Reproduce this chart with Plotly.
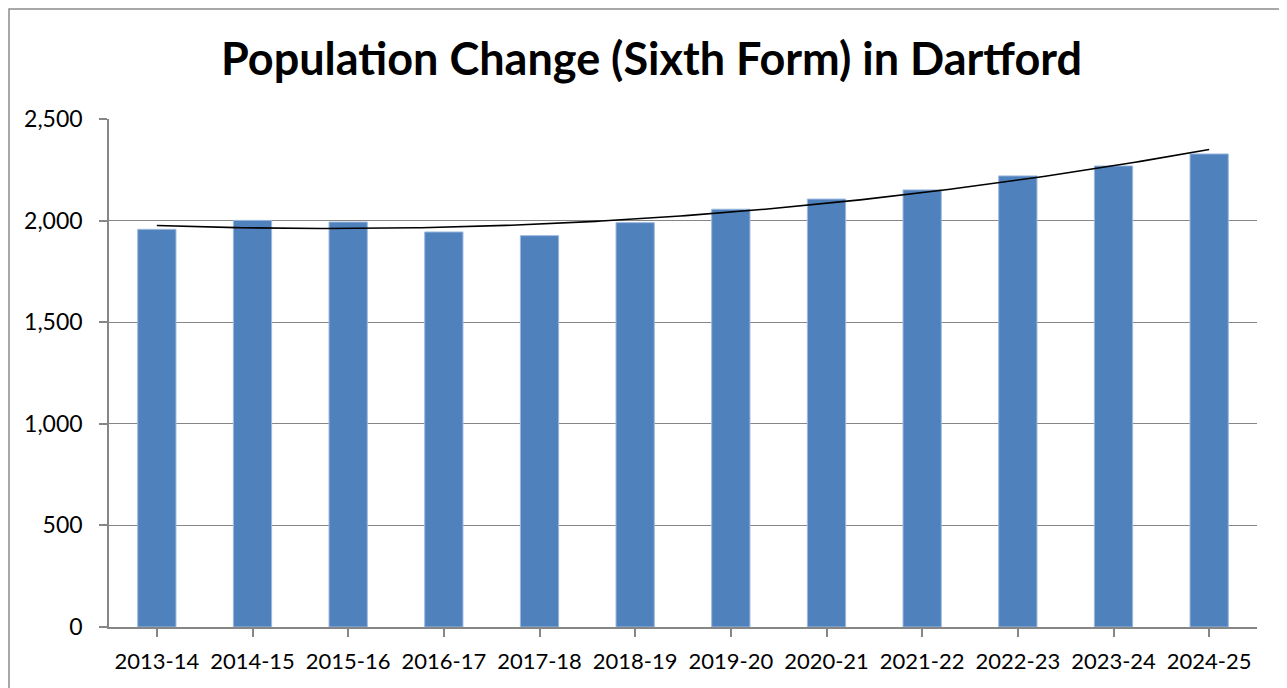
import numpy as np
import plotly.graph_objects as go

years = ["2013-14", "2014-15", "2015-16", "2016-17", "2017-18", "2018-19",
         "2019-20", "2020-21", "2021-22", "2022-23", "2023-24", "2024-25"]
population = [1957, 2001, 1993, 1944, 1926, 1990, 2056, 2106, 2151, 2220, 2269, 2328]

# polynomial (order 2) trendline, as in the original spreadsheet chart
idx = np.arange(1, len(years) + 1)
coef = np.polyfit(idx, population, 2)
trend_x = np.linspace(0, len(years) - 1, 200)
trend_y = np.polyval(coef, trend_x + 1)

fig = go.Figure()
fig.add_trace(go.Bar(
    x=list(range(len(years))), y=population, width=0.4,
    marker=dict(color="#4F81BD", line=dict(color="#9DB9DE", width=1)),
    showlegend=False,
))
fig.add_trace(go.Scatter(
    x=trend_x, y=trend_y, mode="lines",
    line=dict(color="black", width=1.6), showlegend=False, hoverinfo="skip",
))

grid = "#868686"
fig.update_layout(
    width=1287, height=688,
    margin=dict(l=101, r=38, t=111, b=69, autoexpand=False),
    paper_bgcolor="white", plot_bgcolor="white",
    font=dict(family="Lato, 'Open Sans', sans-serif", color="black", size=22),
    title=dict(text="<b>Population Change (Sixth Form) in Dartford</b>",
               x=0.5, xanchor="center", y=1 - 51 / 688, yanchor="middle",
               font=dict(size=45, family="Lato, sans-serif", color="black")),
    bargap=0.6,
    shapes=[dict(type="rect", xref="paper", yref="paper",
                 x0=(1 - 101) / 1148, x1=1 + 28 / 1148,
                 y0=-(69 + 20) / 508, y1=1 + (111 - 1) / 508,
                 line=dict(color="#8C8C8C", width=1.5), layer="above")],
)
fig.update_xaxes(
    tickmode="array", tickvals=list(range(len(years))), ticktext=years,
    range=[-0.5, len(years) - 0.5],
    showline=True, linecolor=grid, linewidth=1.5,
    ticks="outside", tickson="boundaries", ticklen=8, tickcolor=grid, tickwidth=1.5,
    ticklabelstandoff=6,
    showgrid=False, tickfont=dict(size=22),
)
fig.update_yaxes(
    range=[0, 2500], dtick=500, tickformat=",",
    showline=True, linecolor=grid, linewidth=1.5,
    ticks="outside", ticklen=8, tickcolor=grid, tickwidth=1.5,
    ticklabelstandoff=12,
    showgrid=True, gridcolor=grid, gridwidth=1.2, zeroline=False,
    tickfont=dict(size=23),
)

fig.write_html("out.html")
